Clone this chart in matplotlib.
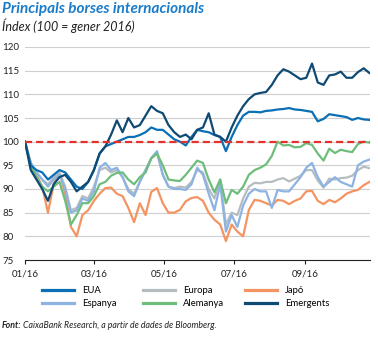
import matplotlib
matplotlib.use("Agg")
import matplotlib.pyplot as plt
import matplotlib.dates as mdates
import pandas as pd
from matplotlib.lines import Line2D

plt.rcParams['font.family'] = ['Lato', 'DejaVu Sans']

# Sampling dates (every 5 days, 1 Jan - 27 Oct 2016)
dates = pd.date_range("2016-01-01", "2016-10-27", freq="5D")

eua = [100, 95, 94, 93.5, 92, 93, 94, 93.5, 92, 90.5,
       90, 91.5, 94, 97.5, 99, 99.5, 100, 100.5, 101, 101,
       101.4, 102, 103, 102.5, 102.5, 101.5, 100.5, 100, 99.2, 101,
       102.5, 102.2, 102, 101.4, 101, 98, 101, 103.5, 105.5, 106.3,
       106.3, 106.2, 106.5, 106.6, 106.8, 106.9, 107.1, 106.8, 106.7, 106.5,
       106.3, 104.3, 104.8, 105.8, 105.6, 105.4, 105.2, 104.6, 105, 104.7,
       104.6]

espanya = [100, 95.5, 93.5, 92, 90.5, 92, 93, 90, 85, 85.5,
           88, 87.5, 89.5, 94.5, 95.5, 94, 94.5, 92.5, 89.5, 88.5,
           91.5, 94, 96.5, 98, 93, 90.5, 90, 90, 89.8, 91,
           94.5, 93, 89, 85.5, 91, 81, 84.5, 82, 86.5, 89,
           90, 89.5, 89.5, 86, 89.8, 89.5, 89.5, 91, 92.5, 94.5,
           95.5, 92.5, 90.5, 91.5, 92.5, 91.5, 91, 90.5, 95, 95.8,
           96.2]

europa = [100, 95.5, 93.5, 92, 91, 92.5, 93.5, 90.5, 85.5, 86,
          88.5, 88, 90.5, 94, 94.5, 93.5, 94, 92.5, 90, 89,
          91.5, 94, 96.5, 97.5, 93, 90.5, 90.2, 90.5, 90.3, 91.5,
          94, 93.5, 90, 88, 92, 82.5, 85, 84.5, 88, 90.5,
          91.3, 91.2, 91.5, 91.5, 92, 92.3, 91.6, 92.2, 92.8, 94,
          94, 91.8, 90.3, 92.2, 92, 92.3, 92.4, 92.8, 94, 94.7,
          94.4]

alemanya = [100, 95, 92.5, 90.5, 89.5, 90.5, 91.5, 87.5, 82.5, 84.5,
            87, 87, 88.5, 91, 91.5, 92.8, 93.4, 93.5, 92, 91,
            92.5, 93.5, 96.5, 97.5, 95, 92, 91.8, 91.7, 93, 94.5,
            96, 95.5, 92, 89.3, 92, 87, 89.8, 89, 90.5, 93,
            94, 94.5, 95.2, 97, 100, 99.2, 99.3, 98.8, 98.9, 99.7,
            99.3, 97.5, 96, 98.5, 97.6, 98.3, 98, 97.8, 99.5, 100,
            99.8]

japo = [100, 95.5, 93, 90.5, 85, 91, 93.5, 89, 82, 80,
        84.5, 85.5, 87.5, 89, 90.2, 90.3, 89, 88.5, 86, 83,
        87, 84.5, 89.4, 90.2, 87, 85, 85, 85.6, 87.4, 88.1,
        88.3, 87.5, 85, 83.5, 82.5, 79, 82.5, 81, 80, 85.6,
        87.7, 87.5, 87, 86.5, 87.7, 87.5, 86.8, 87.5, 88, 89.5,
        89.6, 87.5, 86.8, 87.7, 87.2, 88, 89, 89.5, 89.8, 90.8,
        91.5]

emergents = [100, 94, 92, 90, 87.5, 91, 92.5, 93, 91.5, 89.5,
             90.5, 91.5, 94, 97.5, 99, 101.5, 104.5, 102, 105, 103,
             103.5, 105.5, 107.5, 106.5, 106, 103.5, 102, 101, 101.5, 100.5,
             102.5, 103, 106, 101.5, 101, 100, 103, 105.5, 107.5, 109,
             110, 110.3, 110.5, 112, 114, 115.3, 114.8, 114, 113.2, 113.5,
             116.5, 112.5, 112, 114, 114.2, 114.8, 113.5, 113.5, 114.7, 115.5,
             114.5]

labels = ["EUA", "Espanya", "Europa", "Alemanya", "Japó", "Emergents"]
colors = {"EUA": "#0b6fb6", "Espanya": "#8db3e2", "Europa": "#b6bdc1",
          "Alemanya": "#6dbd7b", "Japó": "#f39462", "Emergents": "#0e4a73"}
series = {"EUA": eua, "Espanya": espanya, "Europa": europa,
          "Alemanya": alemanya, "Japó": japo, "Emergents": emergents}
draw_order = ["Japó", "Europa", "Espanya", "Alemanya", "EUA", "Emergents"]

W, H = 378, 338
fig = plt.figure(figsize=(W / 100, H / 100), dpi=100)
ax = fig.add_axes([25 / W, 1 - 260 / H, 345 / W, 213 / H])

for name in draw_order:
    ax.plot(dates, series[name], color=colors[name], lw=1.6,
            solid_joinstyle='round', zorder=3)

ax.axhline(100, color="#e4312b", lw=1.6, dashes=(3.2, 1.8), zorder=4)

ax.set_ylim(75, 120)
ax.set_yticks(range(75, 121, 5))
ax.set_xlim(pd.Timestamp("2016-01-01"),
            pd.Timestamp("2016-01-01") + pd.Timedelta(days=300.5))
ax.set_xticks(pd.to_datetime(["2016-01-01", "2016-03-01", "2016-05-01",
                              "2016-07-01", "2016-09-01"]))
ax.xaxis.set_major_formatter(mdates.DateFormatter("%m/%y"))

ax.grid(axis="y", color="#cfcfcf", lw=0.8, zorder=0)
for s in ("top", "right", "left"):
    ax.spines[s].set_visible(False)
ax.spines["bottom"].set_color("#222222")
ax.spines["bottom"].set_linewidth(0.8)

ax.tick_params(axis="x", length=3, width=0.8, color="#222222",
               labelsize=7, pad=4, labelcolor="#222222")
ax.tick_params(axis="y", length=0, labelsize=7, pad=16.5,
               labelcolor="#222222")
for lab in ax.get_yticklabels():
    lab.set_horizontalalignment("left")

# Legend: three columns of two entries
columns = [["EUA", "Espanya"], ["Europa", "Alemanya"], ["Japó", "Emergents"]]
col_x = [42, 143, 245]
for names, x0 in zip(columns, col_x):
    handles = [Line2D([], [], color=colors[n], lw=2.3) for n in names]
    leg = fig.legend(handles, names, loc="upper left",
                     bbox_to_anchor=(x0 / W, 1 - 286 / H),
                     frameon=False, fontsize=6.8, handlelength=3.4,
                     handletextpad=0.8, labelspacing=0.45,
                     borderpad=0, borderaxespad=0)

fig.text(2 / W, 1 - 9 / H, "Principals borses internacionals",
         color="#1a7cc9", fontsize=11, fontweight="bold",
         fontstyle="italic", va="center", ha="left")
fig.text(2 / W, 1 - 26 / H, "Índex (100 = gener 2016)",
         color="#222222", fontsize=9, fontstyle="italic",
         va="center", ha="left")

src = fig.text(2 / W, 1 - 325 / H, "Font:", color="#222222", fontsize=6.3,
               fontweight="bold", fontstyle="italic", va="center", ha="left")
fig.canvas.draw()
bb = src.get_window_extent()
fig.text((bb.x1 + 1.5) / W, 1 - 325 / H,
         "CaixaBank Research, a partir de dades de Bloomberg.",
         color="#222222", fontsize=6.3, fontstyle="italic",
         va="center", ha="left")

fig.savefig("out.png", dpi=100)
